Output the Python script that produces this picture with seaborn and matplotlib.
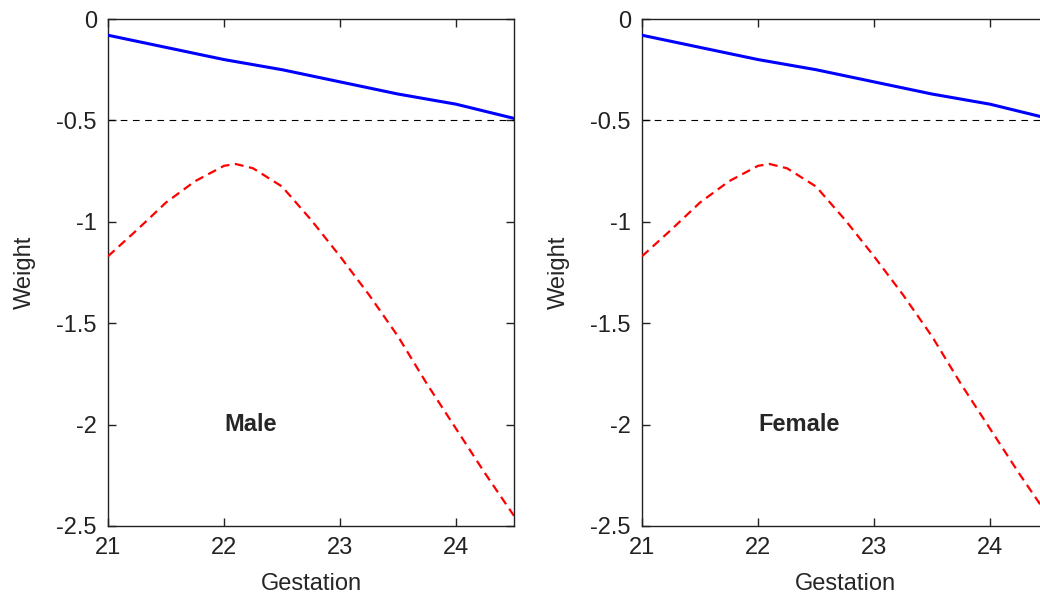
import matplotlib

matplotlib.use("Agg")
import matplotlib.pyplot as plt
import pandas as pd
import seaborn as sns

# values (both panels look identical)
blue_x = [21.0, 21.5, 22.0, 22.5, 23.0, 23.5, 24.0, 24.5]
blue_y = [-0.08, -0.14, -0.20, -0.25, -0.31, -0.37, -0.42, -0.49]

red_x = [21.0, 21.25, 21.5, 21.75, 22.0, 22.1, 22.25, 22.5, 22.75,
         23.0, 23.25, 23.5, 23.75, 24.0, 24.25, 24.5]
red_y = [-1.17, -1.04, -0.905, -0.80, -0.724, -0.715, -0.736, -0.826, -0.99,
         -1.17, -1.36, -1.565, -1.80, -2.02, -2.24, -2.45]

panel_labels = ["Male", "Female"]
x_ticks = [21, 22, 23, 24]
y_ticks = [0, -0.5, -1, -1.5, -2, -2.5]
y_tick_labels = ["0", "-0.5", "-1", "-1.5", "-2", "-2.5"]
reference_level = -0.5

FONT = ["Liberation Sans", "DejaVu Sans"]
FS = 17

sns.set_style("white")
plt.rcParams["font.family"] = FONT

blue_df = pd.DataFrame({"Gestation": blue_x, "Weight": blue_y})
red_df = pd.DataFrame({"Gestation": red_x, "Weight": red_y})

fig = plt.figure(figsize=(10.4, 6.01), dpi=100)
positions = [
    [108 / 1040, 75 / 601, 406 / 1040, 507 / 601],
    [642 / 1040, 75 / 601, 406 / 1040, 507 / 601],
]

for pos, label in zip(positions, panel_labels):
    ax = fig.add_axes(pos)
    ax.axhline(reference_level, color="black", linewidth=0.8,
               linestyle=(0, (6, 5)), zorder=1)
    sns.lineplot(data=blue_df, x="Gestation", y="Weight", ax=ax,
                 color="#0000ff", linewidth=2.2, zorder=3)
    sns.lineplot(data=red_df, x="Gestation", y="Weight", ax=ax,
                 color="#ff0000", linewidth=1.6, linestyle=(0, (4, 2.5)),
                 zorder=3)
    ax.text(22.0, -2.0, label, fontsize=FS, fontweight="bold",
            ha="left", va="center")

    ax.set_xlim(21, 24.5)
    ax.set_ylim(-2.5, 0)
    ax.set_xticks(x_ticks)
    ax.set_yticks(y_ticks)
    ax.set_yticklabels(y_tick_labels)
    ax.set_xlabel("Gestation", fontsize=FS, labelpad=10)
    ax.set_ylabel("Weight", fontsize=FS, labelpad=15)
    ax.tick_params(direction="in", length=6, width=1, labelsize=FS,
                   top=True, right=True, bottom=True, left=True,
                   pad=8, colors="#222222")
    for spine in ax.spines.values():
        spine.set_visible(True)
        spine.set_color("#222222")
        spine.set_linewidth(1.0)

fig.savefig("out.png", dpi=100)
plt.close(fig)
